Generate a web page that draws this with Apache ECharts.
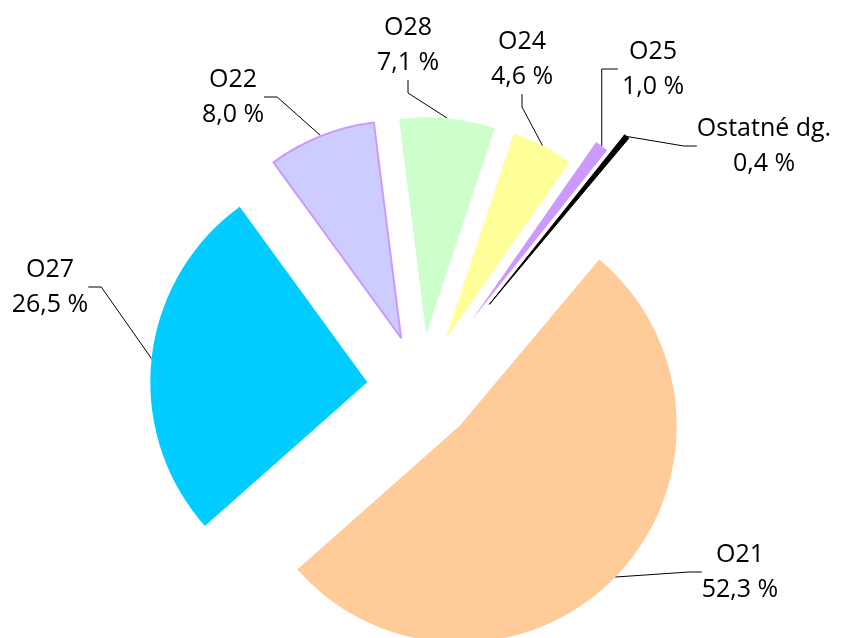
<!DOCTYPE html>
<html>
<head>
<meta charset="utf-8">
<script src="https://cdn.jsdelivr.net/npm/echarts@6/dist/echarts.min.js"></script>
<style>
html,body{margin:0;padding:0;background:#fff}
#chart{width:841px;height:638px}
</style>
</head>
<body>
<div id="chart"></div>
<script>
// kategórie a podiely (%)
var categories = ['O21', 'O27', 'O22', 'O28', 'O24', 'O25', 'Ostatné dg.'];
var values = [52.3, 26.5, 8.0, 7.1, 4.6, 1.0, 0.4];

// farby výsekov
var colors = ['#FFCC99', '#00CCFF', '#CCCCFF', '#CCFFCC', '#FFFF99', '#CC99FF', '#000000'];
// okraje výsekov: [farba, hrúbka]
var borders = [null, null, ['#CC99FF', 2], null, null, null, ['#000000', 1]];
// vysunutie výsekov (px)
var explodeBy = [54, 54, 54, 54, 54, 85, 108];
// stred popisov (px)
var labelPos = [[740, 572], [50, 287], [233, 97], [408, 45], [522, 59], [653, 69], [764, 146]];
// spojnica do ľavého okraja popisu so zalomením (ako v Exceli)
var labelElbow = [false, false, false, false, false, true, false];

var pieCenter = [421, 388];
var pieRadius = 217;
var startAngle = 50;

function fmt(p) {
    return p.name + '\n' + p.value.toFixed(1).replace('.', ',') + ' %';
}

// skupiny podľa vysunutia
var groups = [];
explodeBy.forEach(function (d) {
    if (groups.indexOf(d) < 0) groups.push(d);
});

var series = [];
groups.forEach(function (off) {
    var sliceData = [];
    var labelData = [];
    for (var i = 0; i < categories.length; i++) {
        var inGroup = explodeBy[i] == off;
        var style = {color: 'rgba(0,0,0,0)', borderWidth: 0};
        if (inGroup) {
            style = {color: colors[i], borderWidth: 0};
            if (borders[i]) {
                style.borderColor = borders[i][0];
                style.borderWidth = borders[i][1];
            }
        }
        sliceData.push({name: categories[i], value: values[i], selected: inGroup, itemStyle: style});
        labelData.push({
            name: categories[i],
            value: values[i],
            label: {show: inGroup},
            labelLine: {show: inGroup}
        });
    }
    // výseky
    series.push({
        type: 'pie',
        center: pieCenter,
        radius: pieRadius,
        startAngle: startAngle,
        clockwise: true,
        silent: true,
        selectedMode: 'multiple',
        selectedOffset: off,
        data: sliceData,
        label: {show: false},
        labelLine: {show: false},
        emphasis: {disabled: true}
    });
    // popisy - oblúk leží na stredoch vysunutých oblúkov
    series.push({
        type: 'pie',
        center: pieCenter,
        radius: pieRadius + off,
        startAngle: startAngle,
        clockwise: true,
        silent: true,
        avoidLabelOverlap: false,
        data: labelData,
        itemStyle: {color: 'rgba(0,0,0,0)', borderWidth: 0},
        label: {
            position: 'outside',
            formatter: fmt,
            fontFamily: 'Open Sans',
            fontSize: 25,
            lineHeight: 35,
            color: '#000'
        },
        labelLine: {
            length: 10,
            length2: 13,
            lineStyle: {color: '#000', width: 1}
        },
        labelLayout: function (params) {
            var idx = params.dataIndex;
            var pos = labelPos[idx];
            var res = {
                x: pos[0],
                y: pos[1],
                align: 'center',
                verticalAlign: 'middle'
            };
            if (labelElbow[idx] && params.labelLinePoints) {
                var a = params.labelLinePoints[0];
                var left = pos[0] - params.labelRect.width / 2 - 4;
                res.labelLinePoints = [[a[0], a[1]], [a[0], pos[1]], [left, pos[1]]];
            }
            return res;
        },
        emphasis: {disabled: true}
    });
});

var option = {
    animation: false,
    series: series
};
var chart = echarts.init(document.getElementById('chart'));
chart.setOption(option);
</script>
</body>
</html>
